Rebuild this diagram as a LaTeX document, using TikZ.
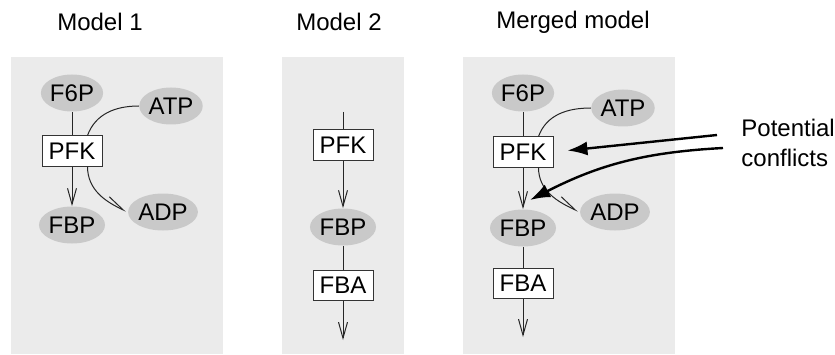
\documentclass[tikz,border=0pt]{standalone}
\usepackage{fontspec}
\setmainfont{Liberation Sans}
\usetikzlibrary{arrows.meta, positioning, shapes.geometric}

\begin{document}
\begin{tikzpicture}[
  x=0.5pt, y=0.5pt, % 1 unit = 1 px of the 835x354 frame
  font=\fontsize{12}{15}\selectfont,
  panel/.style={fill=gray!16, draw=none},
  metab/.style={ellipse, fill=gray!42, minimum width=30pt, minimum height=18.5pt,
                inner sep=0pt},
  enzyme/.style={draw=black!80, fill=white, line width=0.5pt, minimum width=30pt,
                 minimum height=15pt, inner sep=0pt},
  flow/.style={draw=black!85, line width=0.5pt},
  vtip/.style={-{Straight Barb[length=8pt, width=4.5pt]}},
  htip/.style={-{Straight Barb[harpoon, length=9pt, width=6pt]}},
  conflict/.style={line width=1.2pt, -{Latex[length=10pt, width=7pt]}}
]
  \useasboundingbox (0,0) rectangle (835,354);

  % Hintergrund und Titel der drei Modelle
  \foreach \xl/\xr/\xt/\name in {11/223/100/Model 1, 282/404/339/Model 2,
                                 463/675/573/Merged model} {
    \fill[panel] (\xl,0) rectangle (\xr,297);
    \node at (\xt,332) {\name};
  }

  % Model 1
  \node[metab]  (F6P1) at (72,261)  {F6P};
  \node[metab]  (ATP1) at (171,248) {ATP};
  \node[enzyme] (PFK1) at (72,203)  {PFK};
  \node[metab]  (FBP1) at (72,129)  {FBP};
  \node[metab]  (ADP1) at (163,142) {ADP};
  \draw[flow] (F6P1) -- (PFK1);
  \draw[flow, vtip] (PFK1) -- (FBP1);
  \draw[flow] (ATP1.west) to[out=180, in=70] (PFK1.45);
  \draw[flow, htip, shorten >=1pt] (PFK1.-45) to[out=-90, in=155] (ADP1.west);

  % Model 2
  \coordinate (in2) at (343,242);
  \node[enzyme] (PFK2) at (343,209) {PFK};
  \node[metab]  (FBP2) at (343,127) {FBP};
  \node[enzyme] (FBA2) at (343,69)  {FBA};
  \coordinate (out2) at (343,14);
  \draw[flow] (in2) -- (PFK2);
  \draw[flow, vtip] (PFK2) -- (FBP2);
  \draw[flow] (FBP2) -- (FBA2);
  \draw[flow, vtip] (FBA2) -- (out2);

  % Merged model
  \node[metab]  (F6P3) at (523,261) {F6P};
  \node[metab]  (ATP3) at (623,246) {ATP};
  \node[enzyme] (PFK3) at (523,202) {PFK};
  \node[metab]  (FBP3) at (523,126) {FBP};
  \node[metab]  (ADP3) at (615,142) {ADP};
  \node[enzyme] (FBA3) at (523,71)  {FBA};
  \coordinate (out3) at (523,17);
  \draw[flow] (F6P3) -- (PFK3);
  \draw[flow, vtip] (PFK3) -- (FBP3);
  \draw[flow] (ATP3.west) to[out=180, in=70] (PFK3.45);
  \draw[flow, htip, shorten >=1pt] (PFK3.-45) to[out=-90, in=155] (ADP3.west);
  \draw[flow] (FBP3) -- (FBA3);
  \draw[flow, vtip] (FBA3) -- (out3);

  % Konflikte
  \node[anchor=west, align=left, inner sep=0pt] (conf) at (741,211)
    {Potential\\conflicts};
  \coordinate (c1) at (717,219);
  \coordinate (c2) at (723,206);
  \coordinate (hit) at (530,154);
  \draw[conflict, shorten >=7pt] (c1) -- (PFK3.east);
  \draw[conflict] (c2) to[bend right=12] (hit);
\end{tikzpicture}
\end{document}
